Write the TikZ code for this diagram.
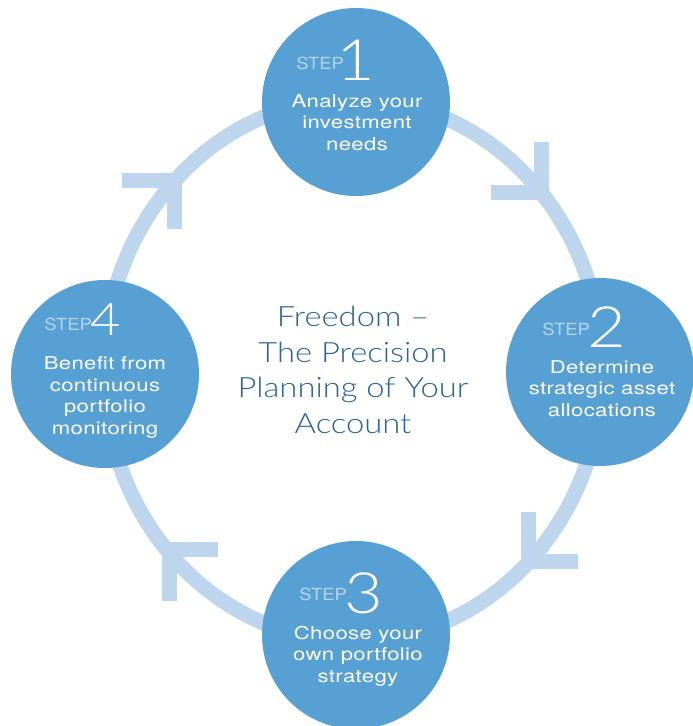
\documentclass[tikz,border=0pt]{standalone}
\usepackage{fontspec}
\setmainfont{TeX Gyre Heros}
\newfontfamily\stepfont{TeX Gyre Heros}[FakeStretch=1.25,LetterSpace=2]
\newfontfamily\wordfont{TeX Gyre Heros}[FakeStretch=1.1]
\newfontfamily\thinfont{Lato}[UprightFont=* Light,FakeStretch=1.17]
\usepackage{xcolor}
\usepackage{tikz}
\definecolor{stepblue}{RGB}{87,160,212}
\definecolor{ringblue}{RGB}{190,214,237}
\definecolor{steplight}{RGB}{183,211,238}
\definecolor{titleblue}{RGB}{44,98,150}

\begin{document}
\begin{tikzpicture}[x=1pt,y=-1pt,
	stepcircle/.style={circle,fill=stepblue,minimum size=188pt,inner sep=0pt},
	ring/.style={draw=ringblue,line width=15pt},
	chev/.style={draw=ringblue,line width=15pt,line join=miter,line cap=butt},
	stepword/.style={anchor=base east,inner sep=0pt,text=steplight,font=\wordfont\fontsize{16.7}{17}\selectfont},
	stepnum/.style={anchor=base west,inner sep=0pt,text=white,font=\thinfont\fontsize{57}{57}\selectfont},
	steptext/.style={anchor=base,inner sep=0pt,text=white,align=center,font=\stepfont\fontsize{17.7}{21.5}\selectfont},
	title/.style={inner sep=0pt,text=titleblue,align=center,font=\thinfont\fontsize{28}{35.5}\selectfont}]
	\useasboundingbox (0,0) rectangle (693,726);

	\coordinate (ringc) at (353,370);
	\draw[ring] (ringc) ellipse [x radius=249pt, y radius=271pt];

	% arrow heads on the ring
	\coordinate (c1) at (541,192);
	\coordinate (c2) at (528,561);
	\coordinate (c3) at (169,549);
	\coordinate (c4) at (174,180);
	\draw[chev] (c1) ++(0,-50) -- (c1) -- ++(-50,0);
	\draw[chev] (c2) ++(0,-49) -- (c2) -- ++(50,0);
	\draw[chev] (c3) ++(0,52) -- (c3) -- ++(49,0);
	\draw[chev] (c4) ++(-52,0) -- (c4) -- ++(0,49);

	\node[stepcircle] (s1) at (356,102) {};
	\node[stepcircle] (s2) at (600,372) {};
	\node[stepcircle] (s3) at (356,635) {};
	\node[stepcircle] (s4) at (105,374) {};

	\node[title] (t) at (ringc) {Freedom –\\The Precision\\Planning of Your\\Account};

	% last text line sits on the base anchor
	\node[stepword] (w1) at ([xshift=-12pt,yshift=33pt]s1.center) {STEP};
	\node[stepnum] (n1) at ([xshift=-20pt,yshift=22pt]s1.center) {1};
	\node[steptext] (x1) at ([xshift=1pt,yshift=-48pt]s1.center) {Analyze your\\investment\\needs};

	\node[stepword] (w2) at ([xshift=-10pt,yshift=37pt]s2.center) {STEP};
	\node[stepnum] (n2) at ([xshift=-13pt,yshift=25pt]s2.center) {2};
	\node[steptext] (x2) at ([xshift=2pt,yshift=-44pt]s2.center) {Determine\\strategic asset\\allocations};

	\node[stepword] (w3) at ([xshift=-9pt,yshift=35pt]s3.center) {STEP};
	\node[stepnum] (n3) at ([xshift=-12pt,yshift=22pt]s3.center) {3};
	\node[steptext] (x3) at ([xshift=2pt,yshift=-47pt]s3.center) {Choose your\\own portfolio\\strategy};

	\node[stepword] (w4) at ([xshift=-13pt,yshift=44pt]s4.center) {STEP};
	\node[stepnum,font=\thinfont\fontsize{45}{45}\selectfont] (n4) at ([xshift=-15pt,yshift=39pt]s4.center) {4};
	\node[steptext] (x4) at ([xshift=0pt,yshift=-60pt]s4.center) {Benefit from\\continuous\\portfolio\\monitoring};
\end{tikzpicture}
\end{document}
